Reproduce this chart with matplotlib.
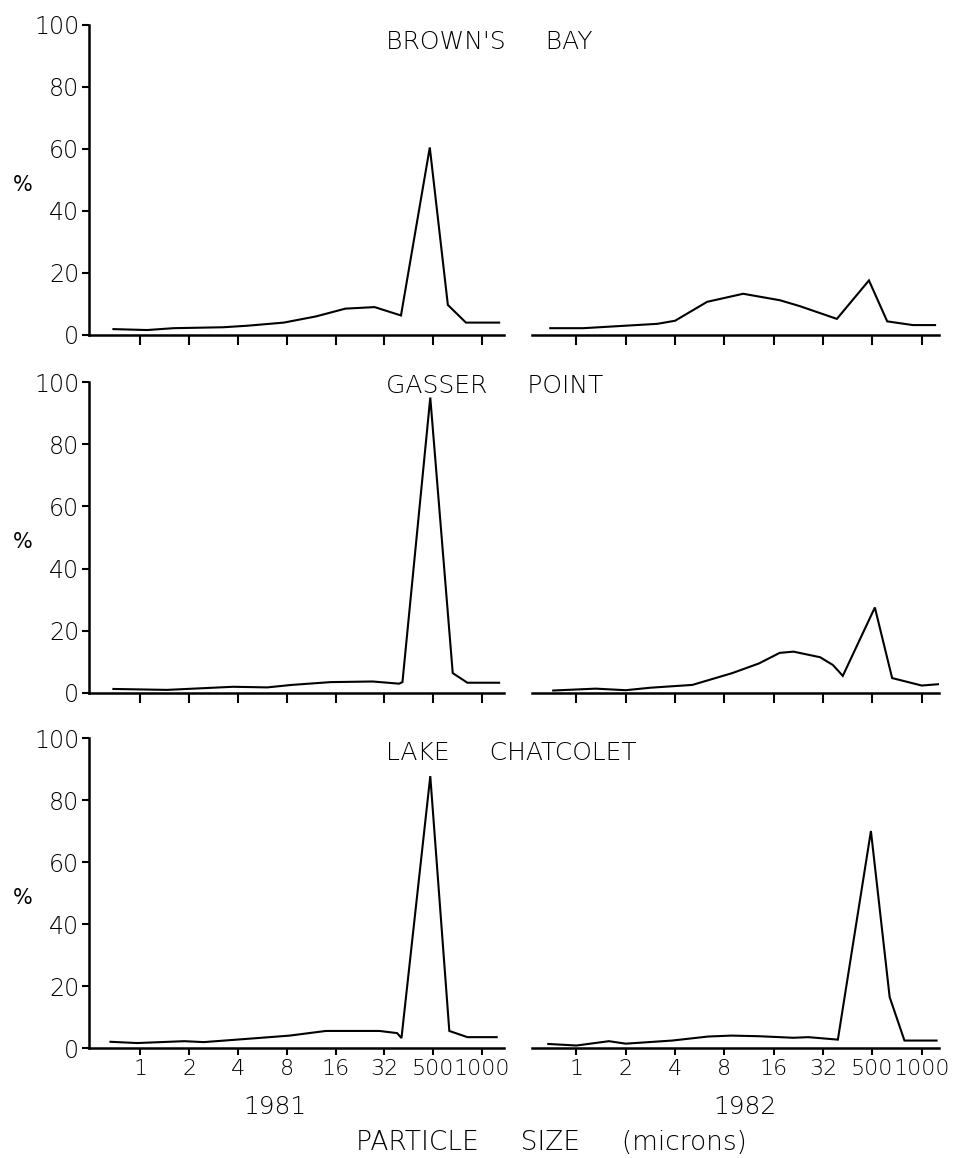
import matplotlib.pyplot as plt

# particle size classes (plotted at equal spacing, as in the original)
size_labels = ['1', '2', '4', '8', '16', '32', '500', '1000']
pct_ticks = [0, 20, 40, 60, 80, 100]

# x is in size-class units (0 = "1", 1 = "2", ... 7 = "1000")
bb81_x = [-0.55, 0.14, 0.68, 1.7, 2.2, 2.94, 3.6, 4.2, 4.8, 5.34, 5.93, 6.3, 6.67, 7.35]
bb81_y = [1.9, 1.6, 2.2, 2.5, 3.0, 4.0, 6.0, 8.5, 9.0, 6.3, 60.5, 9.7, 4.0, 4.0]

bb82_x = [-0.53, 0.14, 1.64, 2.0, 2.65, 3.38, 4.13, 4.53, 5.28, 5.93, 6.3, 6.82, 7.27]
bb82_y = [2.2, 2.2, 3.6, 4.6, 10.7, 13.3, 11.2, 9.3, 5.2, 17.6, 4.4, 3.2, 3.2]

gp81_x = [-0.55, 0.55, 1.9, 2.6, 3.1, 3.9, 4.76, 5.3, 5.37, 5.94, 6.4, 6.7, 7.35]
gp81_y = [1.3, 1.0, 2.0, 1.8, 2.6, 3.5, 3.7, 3.0, 3.5, 95.0, 6.4, 3.3, 3.3]

gp82_x = [-0.47, 0.39, 1.0, 1.5, 2.35, 3.16, 3.7, 4.12, 4.4, 4.94, 5.2, 5.4, 6.05, 6.4, 7.0, 7.4]
gp82_y = [0.8, 1.4, 0.9, 1.7, 2.6, 6.4, 9.5, 12.9, 13.3, 11.5, 9.0, 5.5, 27.5, 4.8, 2.4, 2.9]

lc81_x = [-0.61, -0.06, 0.9, 1.3, 2.4, 3.06, 3.8, 4.9, 5.26, 5.35, 5.94, 6.33, 6.7, 7.3]
lc81_y = [2.0, 1.6, 2.2, 1.9, 3.2, 4.0, 5.5, 5.5, 4.8, 3.2, 87.7, 5.5, 3.5, 3.5]

lc82_x = [-0.57, 0.0, 0.66, 1.0, 1.94, 2.67, 3.14, 3.7, 4.4, 4.7, 5.3, 5.97, 6.35, 6.65, 7.3]
lc82_y = [1.3, 0.8, 2.2, 1.4, 2.4, 3.7, 4.0, 3.8, 3.3, 3.5, 2.7, 70.0, 16.4, 2.4, 2.4]

sites = ["BROWN'S     BAY", 'GASSER     POINT', 'LAKE     CHATCOLET']
years = ['1981', '1982']
series = [
    [(bb81_x, bb81_y), (bb82_x, bb82_y)],
    [(gp81_x, gp81_y), (gp82_x, gp82_y)],
    [(lc81_x, lc81_y), (lc82_x, lc82_y)],
]

plt.rcParams['font.family'] = ['DejaVu Sans']
W, H = 979, 1158
fig = plt.figure(figsize=(W / 100, H / 100), dpi=100)

# pixel rows: (y of 100 %, y of 0 %, y of site title)
rows = [(25, 335, 42), (382, 693, 386), (738, 1048, 753)]
# pixel columns: (left, right, xlim)
cols = [(89, 504, (-1.05, 7.45)), (532, 939, (-0.9, 7.35))]

lw_axis = 1.8
for r, (ytop, ybot, ytitle) in enumerate(rows):
    for c, (xl, xr, xlim) in enumerate(cols):
        ax = fig.add_axes([xl / W, 1 - ybot / H, (xr - xl) / W, (ybot - ytop) / H])
        x, y = series[r][c]
        ax.plot(x, y, color='black', lw=1.5, solid_joinstyle='miter')
        ax.set_xlim(*xlim)
        ax.set_ylim(0, 100)
        for s in ['top', 'right']:
            ax.spines[s].set_visible(False)
        ax.spines['bottom'].set_linewidth(lw_axis)
        ax.spines['left'].set_linewidth(lw_axis)
        ax.set_xticks(range(len(size_labels)))
        if r == 2:
            ax.tick_params(axis='x', direction='out', length=5, width=1.5, pad=3)
            ax.set_xticklabels(size_labels, fontsize=16, fontweight='light')
        else:
            ax.tick_params(axis='x', direction='out', length=7.5, width=1.5)
            ax.set_xticklabels([])
        if c == 0:
            ax.set_yticks(pct_ticks)
            ax.set_yticklabels([str(v) for v in pct_ticks], fontsize=17, fontweight='light')
            ax.tick_params(axis='y', direction='out', length=5, width=1.5, pad=2)
            fig.text(23 / W, 1 - (ytop + 160) / H, '%', fontsize=15, ha='center', va='center')
        else:
            ax.spines['left'].set_visible(False)
            ax.set_yticks([])
    fig.text(386 / W, 1 - ytitle / H, sites[r], fontsize=18, fontweight='light',
             ha='left', va='center')

fig.text(275 / W, 1 - 1107 / H, years[0], fontsize=18, fontweight='light', ha='center', va='center')
fig.text(745 / W, 1 - 1107 / H, years[1], fontsize=18, fontweight='light', ha='center', va='center')
fig.text(551 / W, 1 - 1143 / H, 'PARTICLE     SIZE     (microns)', fontsize=19, fontweight='light',
         ha='center', va='center')

fig.savefig('out.png', dpi=100, facecolor='white')
